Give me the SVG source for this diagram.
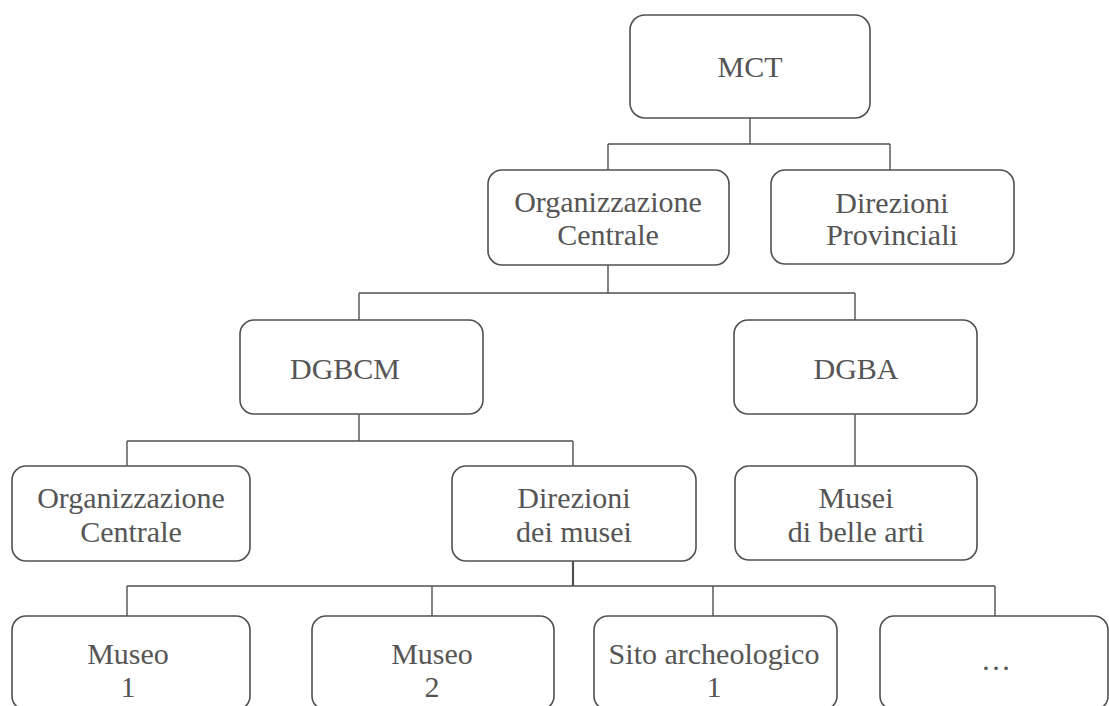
<svg xmlns="http://www.w3.org/2000/svg" width="1109" height="706" viewBox="0 0 1109 706">
<style>
.box{fill:#fff;stroke:#505050;stroke-width:1.6}
.t{font-family:"Liberation Serif","Times New Roman",serif;font-size:30px;fill:#555;text-anchor:middle}
.c{fill:none;stroke:#505050;stroke-width:1.4}
</style>
<rect width="1109" height="706" fill="#fff"/>
<g id="connectors">
<path class="c" d="M750 118V144M608 144H890M608 144V170M890 144V170"/>
<path class="c" d="M608 265V293M359 293H855M359 293V320M855 293V320"/>
<path class="c" d="M359 414V441M127 441H573M127 441V466M573 441V466"/>
<path class="c" d="M855 414V466"/>
<path class="c" d="M127 586H995M127 586V616M432 586V616M713 586V616M995 586V616"/>
<path class="c" style="stroke-width:2.2" d="M573 561V586"/>
</g>
<g id="mct"><rect class="box" x="630" y="15" width="240" height="103" rx="15"/><text class="t" x="750" y="77">MCT</text></g>
<g id="org1"><rect class="box" x="488" y="170" width="241" height="95" rx="14"/><text class="t" x="608" y="212">Organizzazione</text><text class="t" x="608" y="245">Centrale</text></g>
<g id="dirprov"><rect class="box" x="771" y="170" width="243" height="94" rx="14"/><text class="t" x="892" y="213">Direzioni</text><text class="t" x="892" y="245">Provinciali</text></g>
<g id="dgbcm"><rect class="box" x="240" y="320" width="243" height="94" rx="14"/><text class="t" x="345" y="379">DGBCM</text></g>
<g id="dgba"><rect class="box" x="734" y="320" width="243" height="94" rx="14"/><text class="t" x="856" y="379">DGBA</text></g>
<g id="org2"><rect class="box" x="12" y="466" width="238" height="95" rx="14"/><text class="t" x="131" y="508">Organizzazione</text><text class="t" x="131" y="542">Centrale</text></g>
<g id="dirmusei"><rect class="box" x="452" y="466" width="244" height="95" rx="14"/><text class="t" x="574" y="508">Direzioni</text><text class="t" x="574" y="542">dei musei</text></g>
<g id="musei"><rect class="box" x="735" y="466" width="242" height="94" rx="14"/><text class="t" x="856" y="508">Musei</text><text class="t" x="856" y="542">di belle arti</text></g>
<g id="museo1"><rect class="box" x="12" y="616" width="238" height="94" rx="14"/><text class="t" x="128" y="664">Museo</text><text class="t" x="128" y="697">1</text></g>
<g id="museo2"><rect class="box" x="312" y="616" width="242" height="94" rx="14"/><text class="t" x="432" y="664">Museo</text><text class="t" x="432" y="697">2</text></g>
<g id="sito"><rect class="box" x="594" y="616" width="243" height="94" rx="14"/><text class="t" x="714" y="664">Sito archeologico</text><text class="t" x="714" y="697">1</text></g>
<g id="etc"><rect class="box" x="880" y="616" width="228" height="94" rx="14"/><text class="t" x="996" y="670">…</text></g>
</svg>
